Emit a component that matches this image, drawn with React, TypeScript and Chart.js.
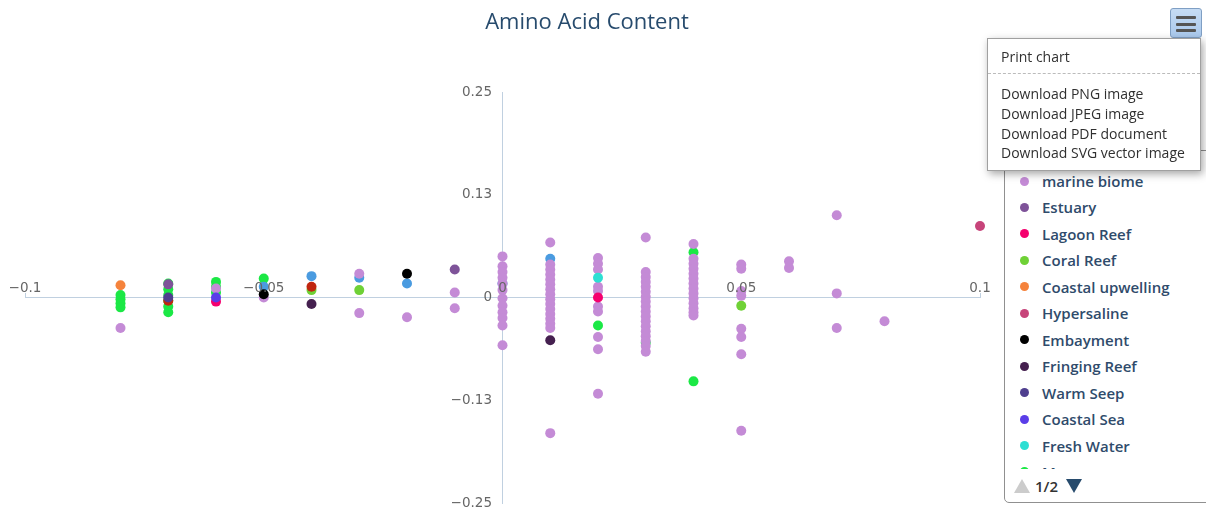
import React, { useEffect, useRef } from "react";
import { Chart, registerables } from "chart.js";

Chart.register(...registerables);

const chartTitle = "Amino Acid Content";

const xTicks = [-0.1, -0.05, 0, 0.05, 0.1];
const xTickLabels = ["\u22120.1", "\u22120.05", "0", "0.05", "0.1"];
const yTicks = [-0.25, -0.125, 0, 0.125, 0.25];
const yTickLabels = ["\u22120.25", "\u22120.13", "0", "0.13", "0.25"];

type P = [number, number];

const marineBiome: P[] = [
  [-0.08, -0.037], [-0.06, 0.011], [-0.05, 0.0], [-0.03, 0.029], [-0.03, -0.019],
  [-0.02, -0.024], [-0.01, 0.006], [-0.01, -0.013],
  [0, 0.05], [0, 0.038], [0, 0.031], [0, 0.024], [0, 0.017], [0, 0.009], [0, -0.001],
  [0, -0.01], [0, -0.018], [0, -0.025], [0, -0.034], [0, -0.058],
  [0.01, 0.067], [0.01, 0.04], [0.01, 0.034], [0.01, 0.028], [0.01, 0.022], [0.01, 0.016],
  [0.01, 0.01], [0.01, 0.004], [0.01, -0.002], [0.01, -0.008], [0.01, -0.014], [0.01, -0.02],
  [0.01, -0.026], [0.01, -0.032], [0.01, -0.037], [0.01, -0.165],
  [0.02, 0.048], [0.02, 0.041], [0.02, 0.034], [0.02, 0.013], [0.02, 0.008], [0.02, -0.011],
  [0.02, -0.017], [0.02, -0.048], [0.02, -0.063], [0.02, -0.117],
  [0.03, 0.073], [0.03, 0.031], [0.03, 0.025], [0.03, 0.019], [0.03, 0.013], [0.03, 0.007],
  [0.03, 0.001], [0.03, -0.005], [0.03, -0.011], [0.03, -0.017], [0.03, -0.023], [0.03, -0.029],
  [0.03, -0.035], [0.03, -0.041], [0.03, -0.047], [0.03, -0.053], [0.03, -0.059], [0.03, -0.066],
  [0.04, 0.065], [0.04, 0.047], [0.04, 0.041], [0.04, 0.035], [0.04, 0.029], [0.04, 0.023],
  [0.04, 0.017], [0.04, 0.011], [0.04, 0.005], [0.04, -0.001], [0.04, -0.007], [0.04, -0.013],
  [0.04, -0.018], [0.04, -0.022],
  [0.05, 0.04], [0.05, 0.035], [0.05, 0.008], [0.05, 0.002], [0.05, -0.038], [0.05, -0.048],
  [0.05, -0.069], [0.05, -0.162],
  [0.06, 0.044], [0.06, 0.036],
  [0.07, 0.1], [0.07, 0.005], [0.07, -0.037],
  [0.08, -0.029],
];
const estuary: P[] = [[-0.07, 0.016], [-0.01, 0.034]];
const lagoonReef: P[] = [[-0.06, -0.005], [0.02, 0.0]];
const coralReef: P[] = [[-0.04, 0.009], [-0.03, 0.009], [0.05, -0.01]];
const coastalUpwelling: P[] = [[-0.08, 0.015]];
const hypersaline: P[] = [[0.1, 0.087]];
const embayment: P[] = [[-0.05, 0.004], [-0.02, 0.029]];
const fringingReef: P[] = [[-0.04, -0.008], [0.01, -0.052]];
const warmSeep: P[] = [[-0.07, 0.0]];
const coastalSea: P[] = [[-0.06, 0.0]];
const freshWater: P[] = [[0.02, 0.024]];
const mangrove: P[] = [
  [-0.08, 0.003], [-0.08, -0.002], [-0.08, -0.007], [-0.08, -0.012],
  [-0.07, 0.017], [-0.07, 0.01], [-0.07, 0.003], [-0.07, -0.004], [-0.07, -0.011], [-0.07, -0.018],
  [-0.06, 0.019], [-0.06, 0.013], [-0.06, 0.006], [-0.05, 0.023],
  [0.02, -0.034], [0.03, -0.055], [0.04, 0.055], [0.04, -0.102],
];
const sediment: P[] = [
  [-0.05, 0.013], [-0.04, 0.026], [-0.03, 0.024], [-0.02, 0.017], [0, 0.017], [0.01, 0.047],
];
const saltMarsh: P[] = [[-0.07, -0.004], [-0.04, 0.013]];

const seriesNames = [
  "marine biome", "Estuary", "Lagoon Reef", "Coral Reef", "Coastal upwelling", "Hypersaline",
  "Embayment", "Fringing Reef", "Warm Seep", "Coastal Sea", "Fresh Water", "Mangrove",
  "Sediment", "Salt Marsh",
];
const seriesColors = [
  "#c48bd6", "#7e5399", "#f5006e", "#6fd136", "#f5833c", "#c7447a",
  "#000000", "#45204f", "#4f3f8f", "#5a3de8", "#2ddfd3", "#1be845",
  "#4a9be0", "#c0260f",
];
const seriesData = [
  marineBiome, estuary, lagoonReef, coralReef, coastalUpwelling, hypersaline,
  embayment, fringingReef, warmSeep, coastalSea, freshWater, mangrove,
  sediment, saltMarsh,
];
// draw order (lower = drawn on top)
const seriesOrder = [12, 4, 3, 7, 3, 3, 3, 3, 2, 2, 3, 20, 15, 5];

const legendVisible = 12;
const FONT = "'Open Sans', sans-serif";
const TICK_FONT = "'DejaVu Sans', sans-serif";

const zeroPad = (s: any) => {
  s.paddingTop = 0;
  s.paddingBottom = 0;
  s.paddingLeft = 0;
  s.paddingRight = 0;
};

export default function App() {
  const canvasRef = useRef<HTMLCanvasElement | null>(null);

  useEffect(() => {
    const prevMargin = document.body.style.margin;
    document.body.style.margin = "0";
    const canvas = canvasRef.current;
    if (!canvas) return;
    const datasets = seriesNames.map((name, i) => ({
      label: name,
      data: seriesData[i].map(([x, y]) => ({ x, y })),
      backgroundColor: seriesColors[i],
      borderColor: seriesColors[i],
      pointRadius: 5,
      pointHoverRadius: 5,
      pointBorderWidth: 0,
      order: seriesOrder[i],
      clip: false as any,
      xAxisID: "x",
      yAxisID: "y",
    }));
    const tickFont = { family: TICK_FONT, size: 13.5 };
    const chart = new Chart(canvas, {
      type: "scatter",
      data: { datasets },
      options: {
        animation: false,
        responsive: false,
        events: [],
        layout: { padding: { left: 25, right: 226, top: 92, bottom: 8 } },
        plugins: {
          legend: { display: false },
          title: { display: false },
          tooltip: { enabled: false },
        },
        scales: {
          x: {
            type: "linear",
            min: -0.1,
            max: 0.1,
            position: { y: 0 } as any,
            afterFit: (s: any) => { s.height = 0; zeroPad(s); },
            afterBuildTicks: (s: any) => { s.ticks = xTicks.map((v) => ({ value: v })); },
            grid: { display: true, drawOnChartArea: false, drawTicks: true, tickLength: -5, color: "#c0d0e0", lineWidth: 1 },
            border: { display: true, color: "#c0d0e0", width: 1 },
            ticks: {
              z: 1,
              padding: -12,
              autoSkip: false,
              maxRotation: 0,
              minRotation: 0,
              color: "#666666",
              font: tickFont,
              callback: (_v: any, i: number) => xTickLabels[i],
            },
          },
          y: {
            type: "linear",
            min: -0.25,
            max: 0.25,
            position: { x: 0 } as any,
            afterFit: (s: any) => { s.width = 0; zeroPad(s); },
            afterBuildTicks: (s: any) => { s.ticks = yTicks.map((v) => ({ value: v })); },
            grid: { display: false, drawTicks: false },
            border: { display: true, color: "#c0d0e0", width: 1 },
            ticks: { display: false },
          },
          yLabels: {
            type: "linear",
            axis: "y",
            min: -0.25,
            max: 0.25,
            position: { x: -0.0022 } as any,
            afterFit: (s: any) => { s.width = 0; zeroPad(s); },
            afterBuildTicks: (s: any) => { s.ticks = yTicks.map((v) => ({ value: v })); },
            grid: { display: false, drawTicks: false },
            border: { display: false },
            ticks: {
              z: 1,
              padding: 0,
              autoSkip: false,
              color: "#666666",
              font: tickFont,
              callback: (_v: any, i: number) => yTickLabels[i],
            },
          },
        },
      } as any,
    });
    return () => {
      chart.destroy();
      document.body.style.margin = prevMargin;
    };
  }, []);

  const menuItems = ["Download PNG image", "Download JPEG image", "Download PDF document", "Download SVG vector image"];

  return (
    <div style={{ position: "relative", width: 1206, height: 511, overflow: "hidden", fontFamily: FONT }}>
      <canvas ref={canvasRef} width={1206} height={511} style={{ position: "absolute", left: 0, top: 0, width: 1206, height: 511 }} />
      <div style={{ position: "absolute", left: 0, top: 6, width: 1174, textAlign: "center", fontSize: 22, lineHeight: "28px", color: "#274b6d" }}>
        {chartTitle}
      </div>
      {/* legend */}
      <div style={{ position: "absolute", left: 1004, top: 150, width: 240, height: 351, border: "1px solid #909090", borderRadius: 5, background: "#fff" }}>
        <div style={{ position: "absolute", left: 0, top: 0, width: 240, height: 318, overflow: "hidden" }}>
          {seriesNames.slice(0, legendVisible).map((name, i) => {
            const cy = 30 + 26.45 * i;
            return (
              <div key={name} style={{ position: "absolute", left: 0, top: cy - 13, height: 26, width: 240 }}>
                <div style={{ position: "absolute", left: 15, top: 8.5, width: 9, height: 9, borderRadius: "50%", background: seriesColors[i] }} />
                <div style={{ position: "absolute", left: 37, top: 0, lineHeight: "26px", fontSize: 15, fontWeight: 600, color: "#2f4b6b", whiteSpace: "nowrap" }}>
                  {name}
                </div>
              </div>
            );
          })}
        </div>
        <div style={{ position: "absolute", left: 9, top: 328, width: 0, height: 0, borderLeft: "8px solid transparent", borderRight: "8px solid transparent", borderBottom: "14px solid #cccccc" }} />
        <div style={{ position: "absolute", left: 30, top: 322, lineHeight: "26px", fontSize: 15, fontWeight: 600, color: "#333333" }}>1/2</div>
        <div style={{ position: "absolute", left: 61, top: 328, width: 0, height: 0, borderLeft: "8px solid transparent", borderRight: "8px solid transparent", borderTop: "14px solid #274b6d" }} />
      </div>
      {/* export button */}
      <div style={{ position: "absolute", left: 1170, top: 8, width: 30, height: 28, border: "1px solid #7f9fc4", borderRadius: 3, background: "linear-gradient(#c6dcf4, #a9c8ec)" }}>
        {[7, 13.5, 20].map((t) => (
          <div key={t} style={{ position: "absolute", left: 5, top: t, width: 20, height: 3, borderRadius: 1, background: "#555555" }} />
        ))}
      </div>
      {/* export menu */}
      <div style={{ position: "absolute", left: 987, top: 38, width: 212, height: 131, border: "1px solid #a0a0a0", background: "#ffffff", boxShadow: "2px 3px 8px rgba(0,0,0,0.35)", fontSize: 14, color: "#303030" }}>
        <div style={{ position: "absolute", left: 13, top: 8, lineHeight: "20px", whiteSpace: "nowrap" }}>Print chart</div>
        <div style={{ position: "absolute", left: 0, top: 34, width: 212, borderTop: "1px dashed #bbbbbb" }} />
        {menuItems.map((m, i) => (
          <div key={m} style={{ position: "absolute", left: 13, top: 45 + i * 19.8, lineHeight: "20px", whiteSpace: "nowrap" }}>{m}</div>
        ))}
      </div>
    </div>
  );
}
